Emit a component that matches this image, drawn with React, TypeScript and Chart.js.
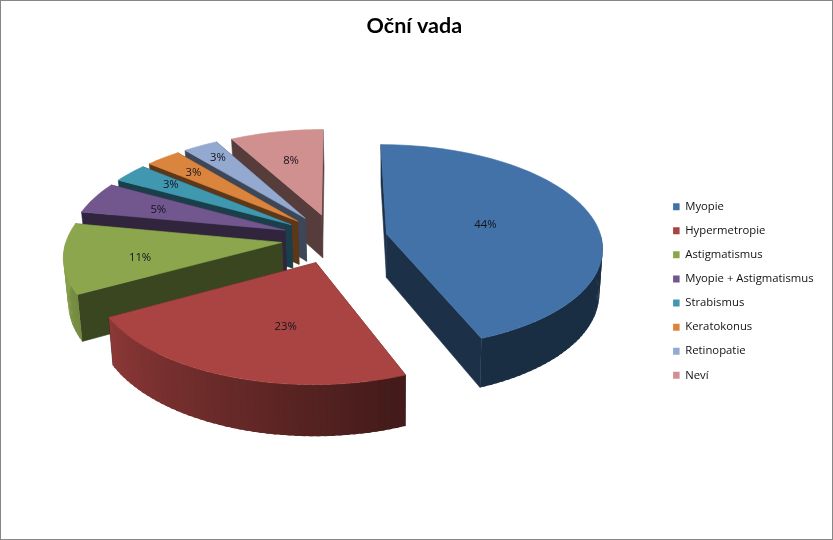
import { useEffect, useRef } from "react";
import Chart from "chart.js/auto";

const categories = [
  "Myopie",
  "Hypermetropie",
  "Astigmatismus",
  "Myopie + Astigmatismus",
  "Strabismus",
  "Keratokonus",
  "Retinopatie",
  "Neví",
];
const percents = [44, 23, 11, 5, 3, 3, 3, 8];
const colors = ["#4272a8", "#a94442", "#8ba64d", "#72578f", "#4097b0", "#db843d", "#93a9cf", "#d09090"];

// where each percentage label sits: share of the radius, then a small nudge in px
const labelRadius = [0.45, 0.55, 0.58, 0.64, 0.76, 0.76, 0.82, 0.65];
const labelNudgeX = [6, 15, -16, -3, 4, 0, 0, 0];
const labelNudgeY = [-1, 5, 6, 1, 0, 1, 0, 2];

// tilted view of the pie
const CX = 333.5;
const CY = 237.5;
const RX = 215;
const RY = 101;
const PERSPECTIVE = 0.12;
const DEPTH = 44;
const PIVOT_X = 389;

const FONT = "'Open Sans', sans-serif";

const shadeColor = (hex: string, k: number) => {
  const n = parseInt(hex.slice(1), 16);
  const r = Math.round(((n >> 16) & 255) * k);
  const g = Math.round(((n >> 8) & 255) * k);
  const b = Math.round((n & 255) * k);
  return `rgb(${r},${g},${b})`;
};

// light on the outer wall depends on which way it faces
const wallShade = (angle: number) => {
  const deg = ((angle + Math.PI / 2) * 180) / Math.PI;
  return Math.min(1, Math.max(0.4, 0.38 + (deg - 158) * 0.0054));
};

const project = (arc: any, angle: number, r: number, down = false) => {
  const mid = (arc.startAngle + arc.endAngle) / 2;
  const d = arc.options.offset / 4 / arc.outerRadius;
  const u = Math.cos(angle) * r + Math.cos(mid) * d;
  const v = Math.sin(angle) * r + Math.sin(mid) * d;
  const w = 1 / (1 - PERSPECTIVE * v);
  const x = CX + RX * u * w;
  const y = CY + RY * v * w;
  if (!down) return { x, y };
  return { x: x + (PIVOT_X - x) * 0.015, y: y + DEPTH * w };
};

const fillPoly = (ctx: CanvasRenderingContext2D, pts: { x: number; y: number }[], color: string, edge = true) => {
  ctx.beginPath();
  pts.forEach((p, i) => (i ? ctx.lineTo(p.x, p.y) : ctx.moveTo(p.x, p.y)));
  ctx.closePath();
  ctx.fillStyle = color;
  ctx.fill();
  if (edge) {
    ctx.strokeStyle = color;
    ctx.lineWidth = 0.6;
    ctx.stroke();
  }
};

const drawSlice = (ctx: CanvasRenderingContext2D, arc: any, color: string) => {
  const steps = Math.max(4, Math.ceil((arc.endAngle - arc.startAngle) / 0.03));
  const step = (arc.endAngle - arc.startAngle) / steps;
  const angleAt = (i: number) => arc.startAngle + step * i;
  const dark = shadeColor(color, 0.42);

  // the two flat cut faces
  [arc.startAngle, arc.endAngle].forEach((a: number) => {
    fillPoly(
      ctx,
      [project(arc, a, 0), project(arc, a, 1), project(arc, a, 1, true), project(arc, a, 0, true)],
      dark
    );
  });

  // outer wall, only the part that faces the viewer; each strip overlaps the next to hide seams
  for (let i = 0; i < steps; i++) {
    const a0 = angleAt(i);
    const a1 = angleAt(i + 1);
    if (Math.sin((a0 + a1) / 2) < 0) continue;
    const overlap = i < steps - 1 ? a1 + step * 0.5 : a1;
    fillPoly(
      ctx,
      [project(arc, a0, 1), project(arc, overlap, 1), project(arc, overlap, 1, true), project(arc, a0, 1, true)],
      shadeColor(color, wallShade((a0 + a1) / 2)),
      false
    );
  }

  // top face
  const top = [project(arc, arc.startAngle, 0)];
  for (let i = 0; i <= steps; i++) top.push(project(arc, angleAt(i), 1));
  fillPoly(ctx, top, color);
};

const pie3d = {
  id: "pie3d",
  afterLayout(chart: any) {
    // legend and title sit a little off the spots the layout gives them
    chart.legend.top += 21;
    chart.legend.bottom += 21;
    chart.titleBlock.left -= 1.5;
    chart.titleBlock.right -= 1.5;
  },
  beforeDatasetDraw(chart: any) {
    const ctx = chart.ctx;
    const arcs = chart.getDatasetMeta(0).data.map((arc: any, index: number) => ({ arc, index }));
    const depthOf = ({ arc }: any) => Math.sin((arc.startAngle + arc.endAngle) / 2);
    [...arcs]
      .sort((a, b) => depthOf(a) - depthOf(b))
      .forEach(({ arc, index }: any) => drawSlice(ctx, arc, colors[index]));

    ctx.font = `11.3px ${FONT}`;
    ctx.fillStyle = "#14141e";
    ctx.textAlign = "center";
    ctx.textBaseline = "middle";
    arcs.forEach(({ arc, index }: any) => {
      const p = project(arc, (arc.startAngle + arc.endAngle) / 2, labelRadius[index]);
      ctx.fillText(`${percents[index]}%`, p.x + labelNudgeX[index], p.y + labelNudgeY[index]);
    });
    return false; // the library's flat arcs are replaced by the tilted ones
  },
};

export default function App() {
  const canvasRef = useRef<HTMLCanvasElement>(null);

  useEffect(() => {
    document.body.style.margin = "0";
    if (!canvasRef.current) return;

    const chart = new Chart(canvasRef.current, {
      type: "pie",
      plugins: [pie3d],
      data: {
        labels: categories,
        datasets: [
          {
            data: percents,
            backgroundColor: colors,
            borderWidth: 0,
            offset: 160,
          },
        ],
      },
      options: {
        responsive: true,
        maintainAspectRatio: false,
        animation: false,
        layout: { padding: { left: 7, right: 8.4, top: 0, bottom: 0 } },
        plugins: {
          title: {
            display: true,
            text: "Oční vada",
            color: "#000000",
            font: { family: "Lato", size: 21.5, weight: "bold" },
            padding: { top: 12.5, bottom: 16 },
          },
          tooltip: { enabled: false },
          legend: {
            position: "right",
            labels: {
              boxWidth: 6.5,
              boxHeight: 7,
              padding: 12.8,
              color: "#111111",
              font: { family: "'Open Sans'", size: 11.3 },
            },
          },
        },
      },
    });

    return () => chart.destroy();
  }, []);

  return (
    <div style={{ width: 833, height: 540, boxSizing: "border-box", border: "1px solid #868686", background: "#fff" }}>
      <canvas ref={canvasRef} />
    </div>
  );
}
